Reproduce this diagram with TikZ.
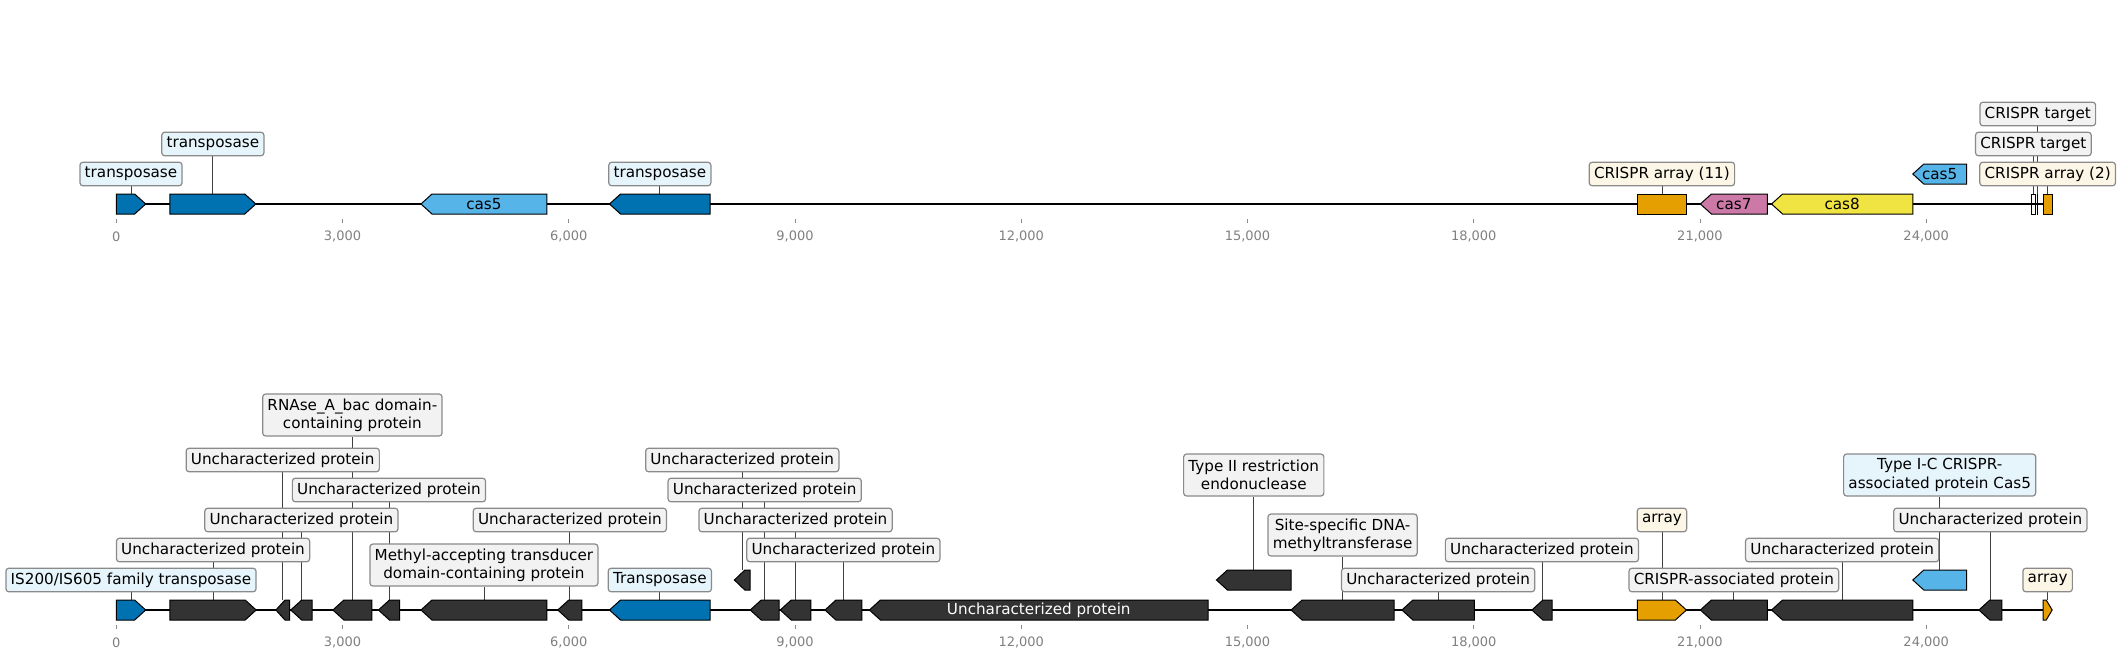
\documentclass[tikz,border=0pt]{standalone}
\usepackage{fontspec}
\setmainfont{DejaVu Sans}
\usepackage{tikz}
\usetikzlibrary{calc,backgrounds}

\definecolor{blu}{HTML}{0072B2}
\definecolor{sky}{HTML}{56B4E9}
\definecolor{orng}{HTML}{E69F00}
\definecolor{pnk}{HTML}{CC79A7}
\definecolor{yel}{HTML}{F0E442}
\definecolor{drk}{HTML}{333333}
\definecolor{labblue}{HTML}{E6F4FC}
\definecolor{labyel}{HTML}{FCF6E6}
\definecolor{labgray}{HTML}{F2F2F2}
\definecolor{boxgray}{HTML}{8A8A8A}

% label text with the trailing blank of the plot
\newcommand{\uncprot}{Uncharacterized protein\hspace{2.4pt}}

% \gene[text]{name}{dir}{start}{end}{y}{colour}, dir = 1, -1 or 0
\newcommand{\gene}[7][]{%
  \pgfmathsetmacro{\gA}{(#3<0)?#5:#4}%
  \pgfmathsetmacro{\gB}{(#3<0)?#4:#5}%
  \pgfmathsetmacro{\gH}{#3*min(0.146,0.66*(#5-#4))}%
  \draw[gene,fill=#7] (\gA,#6-10) -- ({\gB-(\gH)},#6-10) -- (\gB,#6)
    -- ({\gB-(\gH)},#6+10) -- (\gA,#6+10) -- cycle;
  \coordinate (#2) at ({(#4+#5)/2},#6-10);
  \ifx\relax#1\relax\else
    \node[gtext] (#2t) at ({(#4+#5)/2},#6) {#1};
  \fi
}

\begin{document}
\begin{tikzpicture}[x=37.7065pt, y=-0.5pt,
font=\fontsize{7.6}{9.2}\selectfont]

\tikzstyle{lab}=[draw=boxgray, fill=labgray, rounded corners=1.5pt, line width=0.6pt,
inner xsep=2.4pt, inner ysep=0pt, minimum height=11.8pt]
\tikzstyle{labb}=[lab, fill=labblue]
\tikzstyle{laby}=[lab, fill=labyel]
\tikzstyle{two}=[minimum height=21pt, align=center]
\tikzstyle{gene}=[draw=black, line width=0.5pt]
\tikzstyle{gtext}=[inner sep=0pt]
\tikzstyle{conn}=[draw=black!75, line width=0.4pt]
\tikzstyle{axis}=[draw=black, line width=1pt]
\tikzstyle{tick}=[draw=black!45, line width=0.4pt]
\tikzstyle{ticklab}=[text=black!50, inner sep=0pt, font=\fontsize{6.5}{7.8}\selectfont]

\useasboundingbox (-1.542,0) rectangle (26.583,659);

% axes
\draw[axis] (0,204) -- (25.67,204);
\draw[axis] (0,610) -- (25.67,610);
\foreach \k/\t in {0/0,3/{3,000},6/{6,000},9/{9,000},12/{12,000},15/{15,000},
18/{18,000},21/{21,000},24/{24,000}} {
  \draw[tick] (\k,219) -- (\k,223);
  \node[ticklab] (tt\k) at (\k,236.5) {\t};
  \draw[tick] (\k,625) -- (\k,629);
  \node[ticklab] (bt\k) at (\k,642.5) {\t};
}

%top map
\gene{tr1}{1}{0}{0.39}{204}{blu}
\gene{tr2}{1}{0.711}{1.85}{204}{blu}
\gene[cas5]{cas5a}{-1}{4.04}{5.71}{204}{sky}
\gene{tr3}{-1}{6.54}{7.875}{204}{blu}
\gene{cr11}{0}{20.171}{20.82}{204}{orng}
\gene[cas7]{cas7}{-1}{21.005}{21.892}{204}{pnk}
\gene[cas8]{cas8}{-1}{21.949}{23.822}{204}{yel}
\gene[cas5]{cas5b}{-1}{23.822}{24.535}{174}{sky}
\gene{tgA}{0}{25.399}{25.443}{204}{none}
\gene{tgB}{0}{25.477}{25.481}{204}{black}
\gene{cr2}{0}{25.55}{25.67}{204}{orng}

\node[labb] (ltr1) at (tr1 |- 0,174) {transposase};
\node[labb] (ltr2) at (tr2 |- 0,144) {transposase};
\node[labb] (ltr3) at (tr3 |- 0,174) {transposase};
\node[laby] (lcr11) at (cr11 |- 0,174) {CRISPR array (11)};
\node[lab] (ltgA) at (tgA |- 0,144) {CRISPR target};
\node[lab] (ltgB) at (tgB |- 0,114) {CRISPR target};
\node[laby] (lcr2) at (cr2 |- 0,174) {CRISPR array (2)};

%bottom map
\gene{b1}{1}{0}{0.39}{610}{blu}
\gene{b2}{1}{0.711}{1.855}{610}{drk}
\gene{b3}{-1}{2.116}{2.299}{610}{drk}
\gene{b4}{-1}{2.313}{2.597}{610}{drk}
\gene{b5}{-1}{2.872}{3.389}{610}{drk}
\gene{b6}{-1}{3.476}{3.756}{610}{drk}
\gene{b7}{-1}{4.04}{5.71}{610}{drk}
\gene{b8}{-1}{5.854}{6.174}{610}{drk}
\gene{b9}{-1}{6.54}{7.875}{610}{blu}
\gene{b10}{-1}{8.196}{8.406}{580}{drk}
\gene{b11}{-1}{8.406}{8.79}{610}{drk}
\gene{b12}{-1}{8.804}{9.21}{610}{drk}
\gene{b13}{-1}{9.397}{9.886}{610}{drk}
\gene[\color{white}\uncprot]{b14}{-1}{9.986}{14.479}{610}{drk}
\gene{b15}{-1}{14.588}{15.578}{580}{drk}
\gene{b16}{-1}{15.578}{16.943}{610}{drk}
\gene{b17}{-1}{17.047}{18.009}{610}{drk}
\gene{b18}{-1}{18.771}{19.038}{610}{drk}
\gene{b19}{1}{20.171}{20.82}{610}{orng}
\gene{b20}{-1}{21.005}{21.892}{610}{drk}
\gene{b21}{-1}{21.949}{23.822}{610}{drk}
\gene{b22}{-1}{23.822}{24.535}{580}{sky}
\gene{b23}{-1}{24.698}{25.002}{610}{drk}
\gene{b24}{1}{25.55}{25.67}{610}{orng}

\node[labb] (lb1) at (b1 |- 0,580) {IS200/IS605 family transposase};
\node[lab] (lb2) at (b2 |- 0,550) {\uncprot};
\node[lab] (lb3) at (b3 |- 0,460) {\uncprot};
\node[lab] (lb4) at (b4 |- 0,520) {\uncprot};
\node[lab,two] (lb5) at (b5 |- 0,415) {RNAse\_A\_bac domain-\\containing protein};
\node[lab] (lb6) at (b6 |- 0,490) {\uncprot};
\node[lab,two] (lb7) at (b7 |- 0,565) {Methyl-accepting transducer\\domain-containing protein};
\node[lab] (lb8) at (b8 |- 0,520) {\uncprot};
\node[labb] (lb9) at (b9 |- 0,580) {Transposase\hspace{2.4pt}};
\node[lab] (lb10) at (b10 |- 0,460) {\uncprot};
\node[lab] (lb11) at (b11 |- 0,490) {\uncprot};
\node[lab] (lb12) at (b12 |- 0,520) {\uncprot};
\node[lab] (lb13) at (b13 |- 0,550) {\uncprot};
\node[lab,two] (lb15) at (b15 |- 0,475) {Type II restriction\\endonuclease};
\node[lab,two] (lb16) at (b16 |- 0,535) {Site-specific DNA-\\methyltransferase};
\node[lab] (lb17) at (b17 |- 0,580) {\uncprot};
\node[lab] (lb18) at (b18 |- 0,550) {\uncprot};
\node[laby] (lb19) at (b19 |- 0,520) {array};
\node[lab] (lb20) at (b20 |- 0,580) {CRISPR-associated protein\hspace{2.4pt}};
\node[lab] (lb21) at (b21 |- 0,550) {\uncprot};
\node[labb,two] (lb22) at (b22 |- 0,475) {Type I-C CRISPR-\\associated protein Cas5};
\node[lab] (lb23) at (b23 |- 0,520) {\uncprot};
\node[laby] (lb24) at (b24 |- 0,580) {array};

% label lines behind the boxes
\begin{scope}[on background layer]
\foreach \g in {tr1,tr2,tr3,cr11,tgA,tgB,cr2}
  \draw[conn] (\g) -- (l\g);
\foreach \g in {1,2,3,4,5,6,7,8,9,10,11,12,13,15,16,17,18,19,20,21,22,23,24}
  \draw[conn] (b\g) -- (lb\g);
\end{scope}

\end{tikzpicture}
\end{document}
